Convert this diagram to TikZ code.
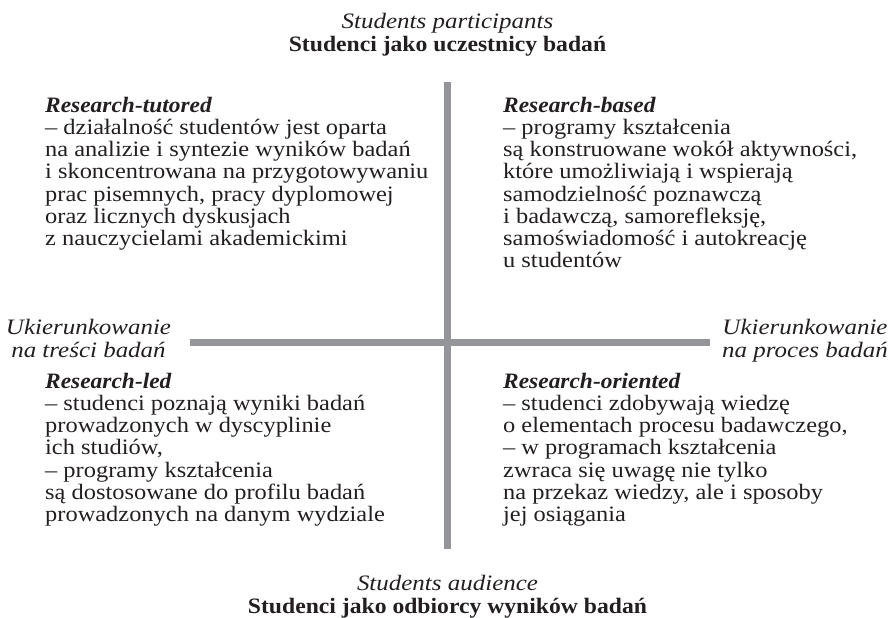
\documentclass[tikz,border=0pt]{standalone}
\usepackage{fontspec}
\setmainfont{Liberation Serif}[
  UprightFeatures={FakeStretch=1.11},
  ItalicFeatures={FakeStretch=1.135},
  BoldFeatures={FakeStretch=1.075},
  BoldItalicFeatures={FakeStretch=1.065}]
\definecolor{ink}{HTML}{231F20}
\definecolor{axisgray}{HTML}{939598}
\newcommand\quadtext[1]{\begin{tabular}[t]{@{}l@{}}#1\end{tabular}}
\newcommand\ctrtext[1]{\begin{tabular}[t]{@{}c@{}}#1\end{tabular}}
\begin{document}
\begin{tikzpicture}[x=1pt,y=-1pt,
  txt/.style={font=\fontsize{22}{22.25}\selectfont, text=ink, inner sep=0pt, anchor=base west},
  ctxt/.style={font=\fontsize{22}{23.5}\selectfont, text=ink, inner sep=0pt, anchor=base},
  axisline/.style={draw=axisgray, line width=6.5pt}]
\useasboundingbox (0,0) rectangle (891,618);
\coordinate (vtop) at (447.5,82);
\coordinate (vbot) at (447.5,549);
\coordinate (hleft) at (190,342.5);
\coordinate (hright) at (710,342.5);
\draw[axisline] (vtop) -- (vbot);
\draw[axisline] (hleft) -- (hright);

\node[ctxt] (top) at (447.5,28.5) {\ctrtext{\textit{Students participants}\\ \textbf{Studenci jako uczestnicy badań}}};
\node[ctxt] (bottom) at (447.5,590) {\ctrtext{\textit{Students audience}\\ \textbf{Studenci jako odbiorcy wyników badań}}};

\node[ctxt] (left) at (88.5,334) {\ctrtext{\itshape Ukierunkowanie\\ \itshape na treści badań}};
\node[ctxt] (right) at (805,334) {\ctrtext{\itshape Ukierunkowanie\\ \itshape na proces badań}};

\node[txt] (tl) at (45,112) {\quadtext{\textbf{\textit{Research-tutored}}\\
– działalność studentów jest oparta\\
na analizie i syntezie wyników badań\\
i skoncentrowana na przygotowywaniu\\
prac pisemnych, pracy dyplomowej\\
oraz licznych dyskusjach\\
z nauczycielami akademickimi}};

\node[txt] (tr) at (503,112) {\quadtext{\textbf{\textit{Research-based}}\\
– programy kształcenia\\
są konstruowane wokół aktywności,\\
które umożliwiają i wspierają\\
samodzielność poznawczą\\
i badawczą, samorefleksję,\\
samoświadomość i autokreację\\
u studentów}};

\node[txt] (bl) at (45,388) {\quadtext{\textbf{\textit{Research-led}}\\
– studenci poznają wyniki badań\\
prowadzonych w dyscyplinie\\
ich studiów,\\
– programy kształcenia\\
są dostosowane do profilu badań\\
prowadzonych na danym wydziale}};

\node[txt] (br) at (503,388) {\quadtext{\textbf{\textit{Research-oriented}}\\
– studenci zdobywają wiedzę\\
o elementach procesu badawczego,\\
– w programach kształcenia\\
zwraca się uwagę nie tylko\\
na przekaz wiedzy, ale i sposoby\\
jej osiągania}};
\end{tikzpicture}
\end{document}
